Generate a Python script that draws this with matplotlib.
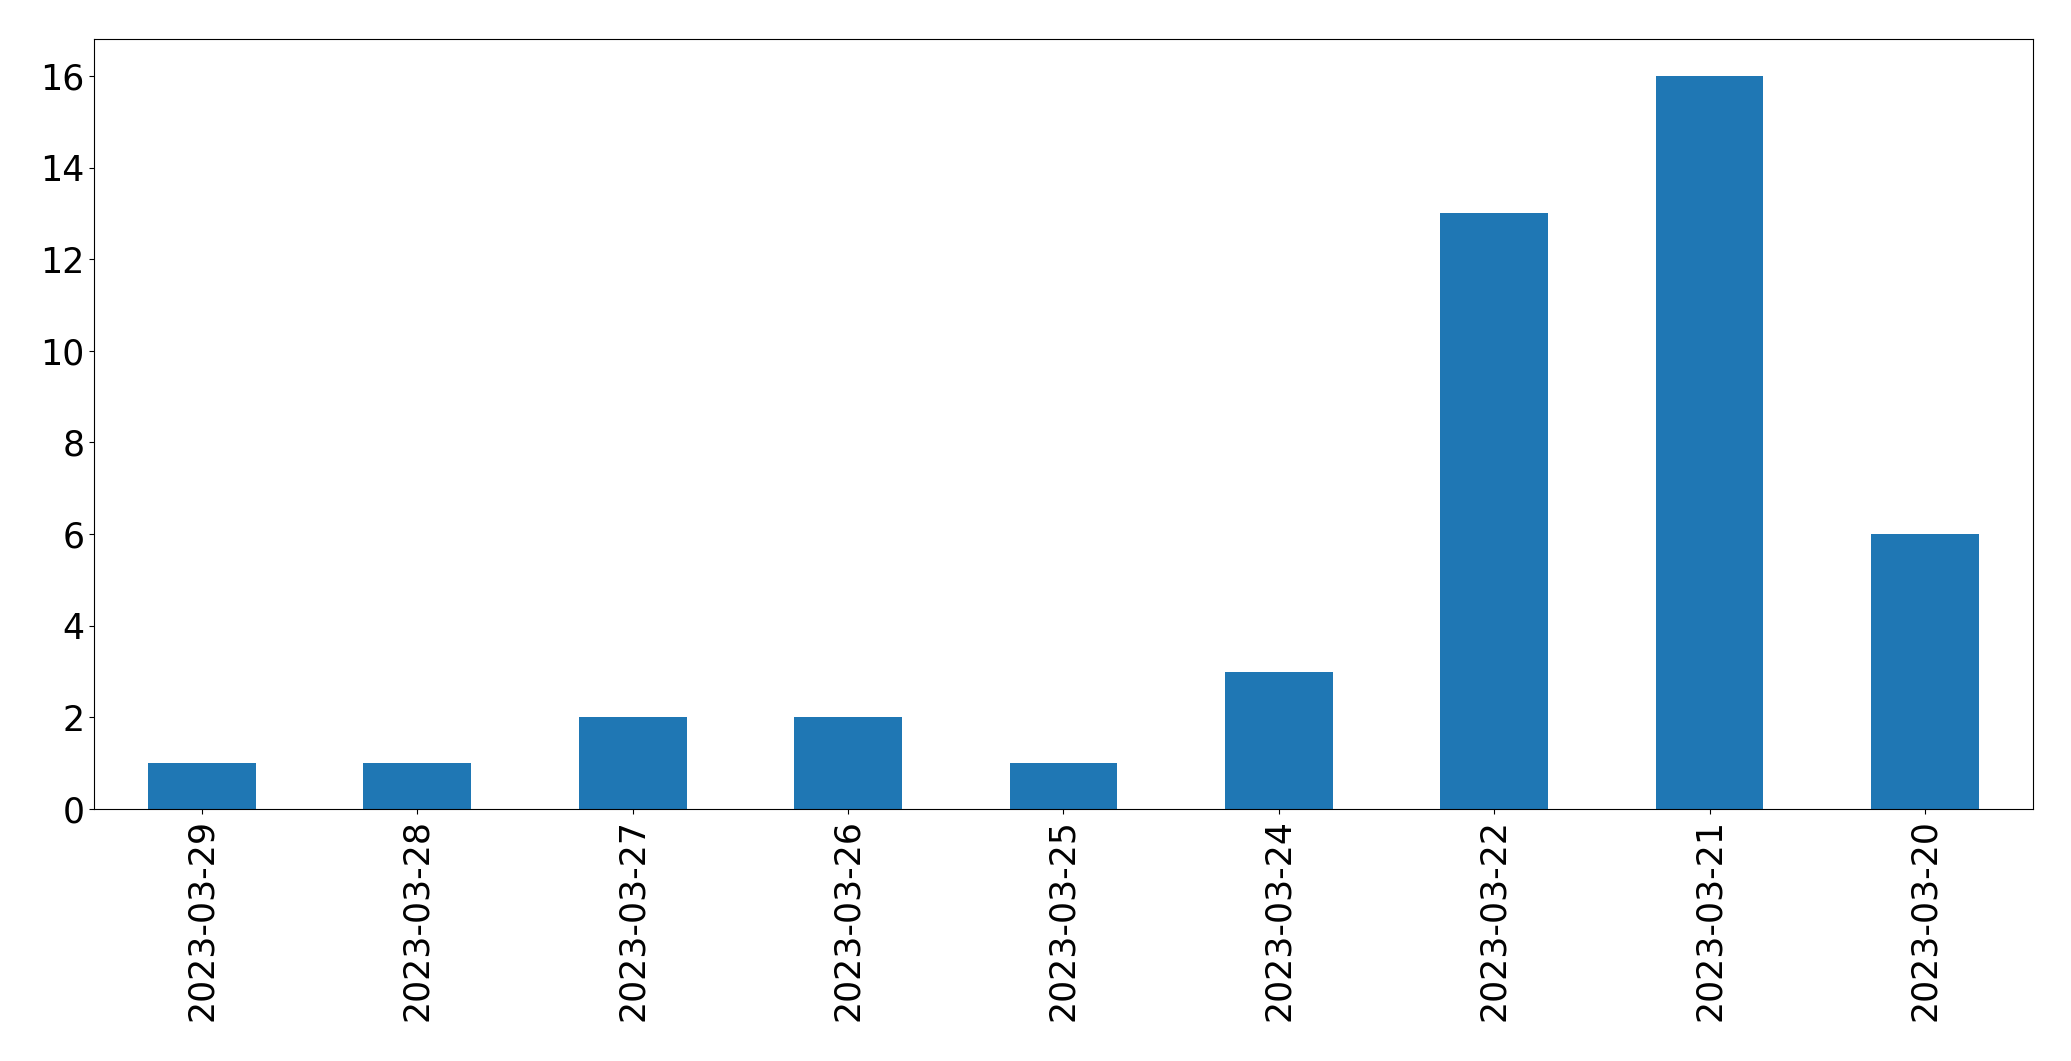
import matplotlib
matplotlib.use('Agg')
import matplotlib.pyplot as plt
import pandas as pd

# counts per day, in the order shown
dates = ['2023-03-29', '2023-03-28', '2023-03-27', '2023-03-26', '2023-03-25',
         '2023-03-24', '2023-03-22', '2023-03-21', '2023-03-20']
counts = [1, 1, 2, 2, 1, 3, 13, 16, 6]

s = pd.Series(counts, index=dates)

fig, ax = plt.subplots(figsize=(20.71, 10.61), dpi=100)
s.plot(kind='bar', ax=ax, color='#1f77b4')
ax.tick_params(axis='both', labelsize=25)

plt.subplots_adjust(left=0.0455, right=0.9815, top=0.963, bottom=0.2375)
plt.savefig('out.png', dpi=100)
